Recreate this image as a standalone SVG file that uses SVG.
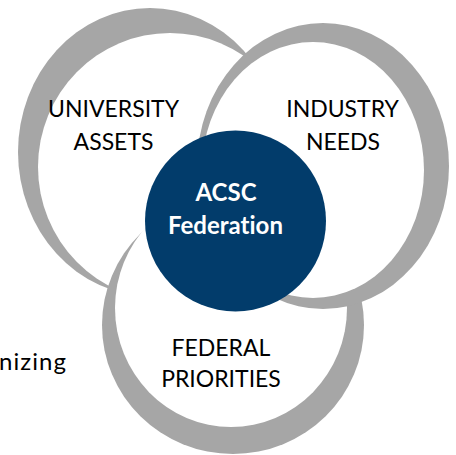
<svg xmlns="http://www.w3.org/2000/svg" width="456" height="455" viewBox="0 0 456 455">
  <style>
    .ring { fill: #a6a6a6; }
    .hole { fill: #ffffff; }
    text { font-variant-ligatures: none; font-feature-settings: "liga" 0, "clig" 0; }
    .label { font-family: Lato, "Open Sans", sans-serif; font-size: 23px; fill: #000000; text-anchor: middle; }
    .core-label { font-family: Lato, "Open Sans", sans-serif; font-size: 24px; font-weight: bold; fill: #ffffff; text-anchor: middle; }
  </style>
  <rect width="456" height="455" fill="#ffffff"/>

  <!-- text partly outside the left edge -->
  <text class="label" x="-1" y="370" style="text-anchor:start;font-size:24px" textLength="67">nizing</text>

  <!-- no connectors in this figure -->
  <g id="connectors"/>

  <g id="university">
    <ellipse class="ring" cx="150" cy="152" rx="132" ry="144"/>
    <ellipse class="hole" cx="170" cy="167" rx="132" ry="134"/>
    <text class="label" x="113.5" y="117">UNIVERSITY</text>
    <text class="label" x="113.5" y="150">ASSETS</text>
  </g>

  <g id="federal">
    <ellipse class="ring" cx="233" cy="325" rx="131" ry="129"/>
    <ellipse class="hole" cx="231" cy="308" rx="116" ry="119"/>
    <text class="label" x="221" y="356">FEDERAL</text>
    <text class="label" x="221" y="387">PRIORITIES</text>
  </g>

  <g id="industry">
    <ellipse class="ring" cx="323" cy="166" rx="126" ry="143"/>
    <ellipse class="hole" cx="313" cy="170" rx="111" ry="128"/>
    <text class="label" x="342.5" y="117">INDUSTRY</text>
    <text class="label" x="343" y="150">NEEDS</text>
  </g>

  <g id="acsc-federation">
    <circle cx="235.5" cy="221" r="90.5" fill="#023c6b"/>
    <text class="core-label" x="226" y="201">ACSC</text>
    <text class="core-label" x="225.5" y="234">Federation</text>
  </g>
</svg>
